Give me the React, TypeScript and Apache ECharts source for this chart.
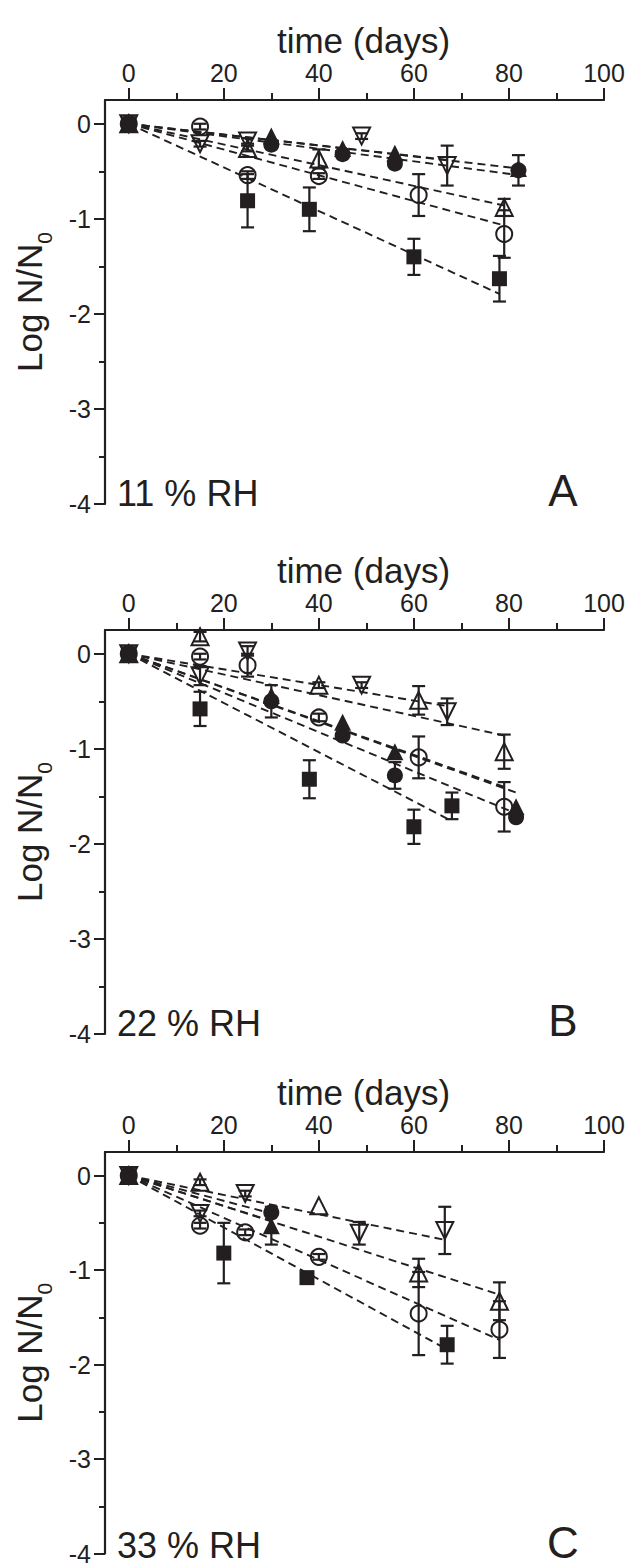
import React, { useEffect, useRef } from "react";
import * as echarts from "echarts";

const INK = "#231f20";
const FONT = "'Liberation Sans', Arial, Helvetica, sans-serif";

// Tick labels
const xTickValues = [0, 20, 40, 60, 80, 100];
const xMinorValues = [10, 30, 50, 70, 90];
const yTickValues = [-4, -3, -2, -1, 0];
const yMinorValues = [-3.5, -2.5, -1.5, -0.5];

// Series order: filled square, open circle, open up-triangle, filled up-triangle, filled circle, open down-triangle
// Each point: [day, log N/N0, error]
// Panel A – 11 % RH
const A_square = [[0, 0, 0], [25, -0.81, 0.28], [38, -0.9, 0.23], [60, -1.4, 0.19], [78, -1.63, 0.24]];
const A_circle = [[0, 0, 0], [15, -0.03, 0.03], [25, -0.54, 0.04], [40, -0.55, 0.03], [61, -0.75, 0.22], [79, -1.16, 0.25]];
const A_upTri = [[0, 0, 0], [25, -0.26, 0.03], [40, -0.37, 0.1], [79, -0.88, 0.09]];
const A_fTri = [[0, 0, 0], [30, -0.13, 0], [45, -0.26, 0], [56, -0.31, 0], [82, -0.47, 0]];
const A_fCircle = [[0, 0, 0], [30, -0.22, 0.03], [45, -0.32, 0.03], [56, -0.42, 0.03], [82, -0.49, 0.16]];
const A_downTri = [[0, 0, 0], [15, -0.21, 0.03], [25, -0.18, 0.03], [49, -0.13, 0.03], [67, -0.44, 0.21]];
// fitted line end points [day, log N/N0] (lines start at the origin)
const A_fitEnds = [[78, -1.79], [79, -1.07], [79, -0.86], [82, -0.47], [82, -0.54], [67, -0.38]];

// Panel B – 22 % RH
const B_square = [[0, 0, 0], [15, -0.58, 0.18], [38, -1.32, 0.2], [60, -1.82, 0.18], [68, -1.6, 0.14]];
const B_circle = [[0, 0, 0], [15, -0.03, 0.03], [25, -0.12, 0.12], [40, -0.67, 0.04], [61, -1.09, 0.22], [79, -1.61, 0.26]];
const B_upTri = [[0, 0, 0], [15, 0.18, 0.05], [40, -0.33, 0.03], [61, -0.49, 0.15], [79, -1.03, 0.18]];
const B_fTri = [[0, 0, 0], [30, -0.44, 0], [45, -0.72, 0], [56, -1.03, 0], [81.5, -1.61, 0]];
const B_fCircle = [[0, 0, 0], [30, -0.5, 0.17], [45, -0.86, 0.03], [56, -1.28, 0.14], [81.5, -1.72, 0.03]];
const B_downTri = [[0, 0, 0], [15, -0.23, 0.1], [25, 0.03, 0.05], [49, -0.33, 0.03], [67, -0.61, 0.14]];
const B_fitEnds = [[68, -1.76], [79, -1.4], [79, -0.86], [81.5, -1.46], [81.5, -1.68], [67, -0.55]];

// Panel C – 33 % RH
const C_square = [[0, 0, 0], [20, -0.82, 0.32], [37.5, -1.08, 0.03], [67, -1.79, 0.2]];
const C_circle = [[0, 0, 0], [15, -0.53, 0.03], [24.5, -0.6, 0.03], [40, -0.86, 0.03], [61, -1.46, 0.44], [78, -1.63, 0.3]];
const C_upTri = [[0, 0, 0], [15, -0.07, 0.03], [40, -0.32, 0], [61, -1.03, 0.15], [78, -1.33, 0.2]];
const C_fTri = [[0, 0, 0], [30, -0.53, 0.2]];
const C_fCircle = [[0, 0, 0], [30, -0.39, 0.03]];
const C_downTri = [[0, 0, 0], [15, -0.4, 0.03], [24.5, -0.19, 0.03], [48.5, -0.61, 0.12], [66.5, -0.58, 0.25]];
const C_fitEnds = [[67, -1.84], [78, -1.74], [78, -1.26], [30, -0.48], [30, -0.4], [66.5, -0.68]];

const RH_LABELS = ["11 % RH", "22 % RH", "33 % RH"];
const PANEL_LETTERS = ["A", "B", "C"];

const PANEL_DATA = [
  { series: [A_square, A_circle, A_upTri, A_fTri, A_fCircle, A_downTri], fits: A_fitEnds },
  { series: [B_square, B_circle, B_upTri, B_fTri, B_fCircle, B_downTri], fits: B_fitEnds },
  { series: [C_square, C_circle, C_upTri, C_fTri, C_fCircle, C_downTri], fits: C_fitEnds },
];

// layout
const GRID_LEFT = 105;
const GRID_WIDTH = 499;
const GRID_HEIGHT = 404;
const GRID_TOPS = [100, 630, 1152];

const MARKERS = [
  { symbol: "rect", size: 15, filled: true, rotate: 0 },
  { symbol: "circle", size: 16, filled: false, rotate: 0 },
  { symbol: "triangle", size: 17, filled: false, rotate: 0 },
  { symbol: "triangle", size: 17, filled: true, rotate: 0 },
  { symbol: "circle", size: 16, filled: true, rotate: 0 },
  { symbol: "triangle", size: 17, filled: false, rotate: 180 },
];

function buildOption() {
  const grid: any[] = [];
  const xAxis: any[] = [];
  const yAxis: any[] = [];
  const series: any[] = [];
  const graphic: any[] = [];

  GRID_TOPS.forEach((top, p) => {
    grid.push({ left: GRID_LEFT, top, width: GRID_WIDTH, height: GRID_HEIGHT, containLabel: false });
    // main x axis
    xAxis.push({
      type: "value",
      gridIndex: p,
      position: "top",
      min: -5,
      max: 100,
      axisLine: { show: true, onZero: false, lineStyle: { color: INK, width: 2.2 } },
      axisTick: { show: true, customValues: xTickValues, length: 12, lineStyle: { color: INK, width: 2 } },
      axisLabel: { show: true, customValues: xTickValues, fontSize: 25, color: INK, fontFamily: FONT, margin: 15 },
      splitLine: { show: false },
      name: "time (days)",
      nameLocation: "middle",
      nameGap: 42,
      nameTextStyle: { fontSize: 35, color: INK, fontFamily: FONT, padding: [0, 0, 0, 18] },
    });
    // minor x ticks
    xAxis.push({
      type: "value",
      gridIndex: p,
      position: "top",
      min: -5,
      max: 100,
      axisLine: { show: false, onZero: false },
      axisTick: { show: true, customValues: xMinorValues, length: 7, lineStyle: { color: INK, width: 2 } },
      axisLabel: { show: false },
      splitLine: { show: false },
    });
    yAxis.push({
      type: "value",
      gridIndex: p,
      position: "left",
      min: -4,
      max: 0.25,
      axisLine: { show: true, onZero: false, lineStyle: { color: INK, width: 2.2 } },
      axisTick: { show: true, customValues: yTickValues, length: 11, lineStyle: { color: INK, width: 2 } },
      axisLabel: { show: true, customValues: yTickValues, fontSize: 25, color: INK, fontFamily: FONT, margin: 14 },
      splitLine: { show: false },
      name: "{a|Log N/N}{b|0}",
      nameLocation: "middle",
      nameRotate: 90,
      nameGap: 50,
      nameTextStyle: {
        color: INK,
        fontFamily: FONT,
        rich: {
          a: { fontSize: 35, lineHeight: 35, padding: [0, 0, 8, 0], verticalAlign: "bottom", color: INK, fontFamily: FONT },
          b: { fontSize: 21, lineHeight: 21, verticalAlign: "bottom", color: INK, fontFamily: FONT },
        },
      },
    });
    yAxis.push({
      type: "value",
      gridIndex: p,
      position: "left",
      min: -4,
      max: 0.25,
      axisLine: { show: false, onZero: false },
      axisTick: { show: true, customValues: yMinorValues, length: 6, lineStyle: { color: INK, width: 2 } },
      axisLabel: { show: false },
      splitLine: { show: false },
    });

    const xi = p * 2;
    const yi = p * 2;
    const panel = PANEL_DATA[p];

    // fitted dashed lines
    panel.fits.forEach((end) => {
      series.push({
        type: "line",
        xAxisIndex: xi,
        yAxisIndex: yi,
        data: [[0, 0], end],
        symbol: "none",
        silent: true,
        z: 1,
        lineStyle: { color: INK, width: 1.9, type: [8, 5] },
      });
    });

    // error bars
    panel.series.forEach((pts) => {
      const bars = pts.filter((d) => d[2] > 0).map((d) => [d[0], d[1] - d[2], d[1] + d[2]]);
      series.push({
        type: "custom",
        xAxisIndex: xi,
        yAxisIndex: yi,
        data: bars,
        z: 2,
        silent: true,
        clip: false,
        encode: { x: 0, y: [1, 2] },
        renderItem: (params: any, api: any) => {
          const x = api.value(0);
          const pLo = api.coord([x, api.value(1)]);
          const pHi = api.coord([x, api.value(2)]);
          const hw = 6.5;
          const st = { stroke: INK, lineWidth: 2.2 };
          return {
            type: "group",
            children: [
              { type: "line", shape: { x1: pHi[0], y1: pHi[1], x2: pLo[0], y2: pLo[1] }, style: st },
              { type: "line", shape: { x1: pHi[0] - hw, y1: pHi[1], x2: pHi[0] + hw, y2: pHi[1] }, style: st },
              { type: "line", shape: { x1: pLo[0] - hw, y1: pLo[1], x2: pLo[0] + hw, y2: pLo[1] }, style: st },
            ],
          };
        },
      });
    });

    // markers
    panel.series.forEach((pts, s) => {
      const m = MARKERS[s];
      series.push({
        type: "scatter",
        xAxisIndex: xi,
        yAxisIndex: yi,
        data: pts.map((d) => [d[0], d[1]]),
        symbol: m.symbol,
        symbolSize: m.size,
        symbolRotate: m.rotate,
        z: 3,
        silent: true,
        itemStyle: m.filled
          ? { color: INK, borderWidth: 0, opacity: 1 }
          : { color: "rgba(255,255,255,0)", borderColor: INK, borderWidth: 2, opacity: 1 },
      });
    });

    const bottom = top + GRID_HEIGHT;
    graphic.push({
      type: "text",
      x: 117,
      y: bottom - 11,
      style: {
        text: RH_LABELS[p],
        fontSize: 36,
        fontFamily: FONT,
        fill: INK,
        align: "left",
        textAlign: "left",
        verticalAlign: "middle",
        textVerticalAlign: "middle",
      },
    });
    graphic.push({
      type: "text",
      x: 563,
      y: bottom - 14,
      style: {
        text: PANEL_LETTERS[p],
        fontSize: 44,
        fontFamily: FONT,
        fill: INK,
        align: "center",
        textAlign: "center",
        verticalAlign: "middle",
        textVerticalAlign: "middle",
      },
    });
  });

  return {
    animation: false,
    backgroundColor: "#ffffff",
    grid,
    xAxis,
    yAxis,
    series,
    graphic,
  };
}

export default function App() {
  const ref = useRef<HTMLDivElement>(null);
  useEffect(() => {
    if (!ref.current) return;
    const chart = echarts.init(ref.current, undefined, { renderer: "svg" });
    chart.setOption(buildOption() as any);
    return () => chart.dispose();
  }, []);
  return (
    <div
      ref={ref}
      style={{ position: "absolute", left: 0, top: 0, width: 632, height: 1566, background: "#fff" }}
    />
  );
}
